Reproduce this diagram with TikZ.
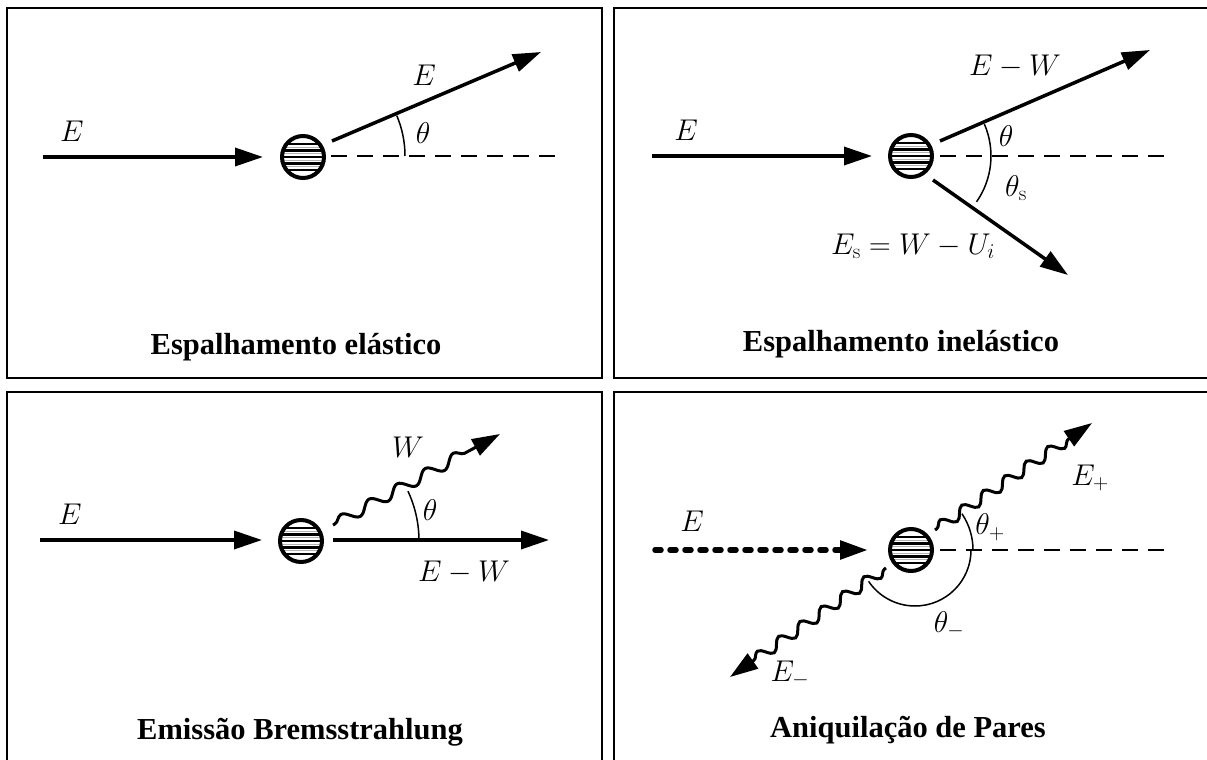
\RequirePackage{fix-cm}
\documentclass[tikz,border=0pt]{standalone}
\usepackage[no-math]{fontspec}
\newfontfamily\capfont{Liberation Serif}
\usetikzlibrary{arrows.meta,decorations.pathmorphing}
\begin{document}
\begin{tikzpicture}[x=1pt,y=-1pt,
  font=\fontsize{30}{36}\selectfont,
  panel/.style={line width=2pt},
  target/.style={circle,draw,line width=4pt,minimum size=42pt,inner sep=0pt,
    path picture={
      \foreach \d in {-13,-6.5,0,6.5,13}{
        \draw[line width=2.4pt] ([yshift=\d pt]path picture bounding box.west) -- ([yshift=\d pt]path picture bounding box.east);}
      \foreach \d in {-9.75,-3.25,3.25,9.75}{
        \draw[line width=0.8pt,black!30] ([yshift=\d pt]path picture bounding box.west) -- ([yshift=\d pt]path picture bounding box.east);}
    }},
  tip/.style={-{Triangle[length=28pt,width=18pt]}},
  ray/.style={line width=3.5pt,tip},
  axisline/.style={line width=2.5pt,dash pattern=on 16pt off 10pt},
  anglearc/.style={line width=1.5pt},
  wave/.style={line width=3pt,tip,decorate,
    decoration={snake,segment length=#1,amplitude=5.5pt,pre length=2pt,post length=26pt}},
  dashray/.style={line width=5.5pt,line cap=round,dash pattern=on 6pt off 9pt,tip},
  caption/.style={font=\capfont\bfseries\fontsize{30.5}{36}\selectfont},
  lbl/.style={inner sep=0pt,font=\fontsize{30}{36}\selectfont}
]
\useasboundingbox (0,0) rectangle (1207,760);
\clip (0,0) rectangle (1207,760);

% panels
\draw[panel] (7,8) rectangle (602,378);
\draw[panel] (614,8) rectangle (1230,378);
\draw[panel] (7,392) rectangle (602,790);
\draw[panel] (614,392) rectangle (1230,790);

% ---------- Panel 1 ----------
\node[target] (t1) at (303,157) {};
\coordinate (in1s) at (43,157);
\coordinate (in1e) at (263,157);
\coordinate (ax1s) at (331,156);
\coordinate (ax1e) at (562,156);
\coordinate (out1s) at (332,141);
\coordinate (out1e) at (541,52);
\draw[ray] (in1s) -- (in1e);
\draw[axisline] (ax1s) -- (ax1e);
\draw[ray] (out1s) -- (out1e);
\draw[anglearc] (405,156) arc[start angle=0,end angle=-23,radius=103];
\node[lbl] (e1a) at (72,131) {$E$};
\node[lbl] (e1b) at (424,75) {$E$};
\node[lbl] (th1) at (423,133) {$\theta$};
\node[caption] (cap1) at (296,347) {Espalhamento elástico};

% ---------- Panel 2 ----------
\node[target] (t2) at (911,156) {};
\coordinate (in2s) at (652,156);
\coordinate (in2e) at (872,156);
\coordinate (ax2s) at (940,156);
\coordinate (ax2e) at (1172,156);
\coordinate (up2s) at (940,141);
\coordinate (up2e) at (1150,50);
\coordinate (dn2s) at (933,180);
\coordinate (dn2e) at (1068,275);
\draw[ray] (in2s) -- (in2e);
\draw[axisline] (ax2s) -- (ax2e);
\draw[ray] (up2s) -- (up2e);
\draw[ray] (dn2s) -- (dn2e);
\draw[anglearc] (984.4,124.2) arc[start angle=-23.4,end angle=35,radius=80];
\node[lbl] (e2a) at (686,130) {$E$};
\node[lbl] (e2b) at (1015,66) {$E-W$};
\node[lbl] (th2) at (1006,136) {$\theta$};
\node[lbl] (th2s) at (1016,188) {$\theta_{\mathrm{s}}$};
\node[lbl] (es2) at (913,246) {$E_{\mathrm{s}}=W-U_i$};
\node[caption] (cap2) at (901,344) {Espalhamento inelástico};

% ---------- Panel 3 ----------
\node[target] (t3) at (301,541) {};
\coordinate (in3s) at (40,540);
\coordinate (in3e) at (262,540);
\coordinate (out3s) at (333,540);
\coordinate (out3e) at (549,540);
\coordinate (w3s) at (333,525);
\coordinate (w3e) at (500,434);
\draw[ray] (in3s) -- (in3e);
\draw[ray] (out3s) -- (out3e);
\draw[wave=32pt] (w3s) -- (w3e);
\draw[anglearc] (419,541) arc[start angle=0,end angle=-25,radius=118];
\node[lbl] (e3a) at (70,514) {$E$};
\node[lbl] (w3) at (408,447) {$W$};
\node[lbl] (th3) at (430,510) {$\theta$};
\node[lbl] (e3b) at (464,572) {$E-W$};
\node[caption] (cap3) at (300,732) {Emissão Bremsstrahlung};

% ---------- Panel 4 ----------
\node[target] (t4) at (911,550) {};
\coordinate (in4s) at (655,550);
\coordinate (in4e) at (868,550);
\coordinate (ax4s) at (940,550);
\coordinate (ax4e) at (1172,550);
\coordinate (w4us) at (935,530);
\coordinate (w4ue) at (1092,423);
\coordinate (w4ds) at (886,568);
\coordinate (w4de) at (730,677);
\draw[dashray] (in4s) -- (in4e);
\draw[axisline] (ax4s) -- (ax4e);
\draw[wave=26pt] (w4us) -- (w4ue);
\draw[wave=26pt] (w4ds) -- (w4de);
\draw[anglearc] (973,550) arc[start angle=0,end angle=-34,radius=65];
\draw[anglearc] (971,550) arc[start angle=0,end angle=146,radius=56];
\node[lbl] (e4a) at (692,521) {$E$};
\node[lbl] (e4p) at (1090,478) {$E_+$};
\node[lbl] (th4p) at (990,527) {$\theta_+$};
\node[lbl] (th4m) at (949,625) {$\theta_-$};
\node[lbl] (e4m) at (790,674) {$E_-$};
\node[caption] (cap4) at (908,730) {Aniquilação de Pares};
\end{tikzpicture}
\end{document}
